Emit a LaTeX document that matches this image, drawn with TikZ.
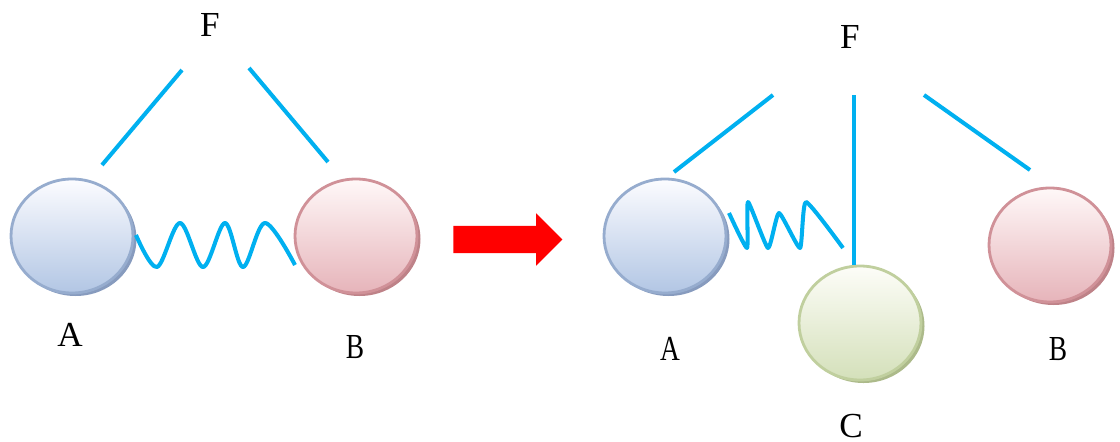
\documentclass[tikz,border=0pt]{standalone}
\usepackage{fontspec}
\setmainfont{Liberation Serif}
\newfontfamily\narrowfont[FakeStretch=0.78]{Liberation Serif}
\usetikzlibrary{shapes.geometric,shapes.arrows,shadows,positioning}
\definecolor{rodcyan}{RGB}{0,176,240}
\definecolor{bluetop}{RGB}{252,252,255}
\definecolor{bluebot}{RGB}{178,198,228}
\definecolor{blueedge}{RGB}{150,172,206}
\definecolor{blueshade}{RGB}{135,155,190}
\definecolor{redtop}{RGB}{255,248,248}
\definecolor{redbot}{RGB}{230,180,186}
\definecolor{rededge}{RGB}{208,145,152}
\definecolor{redshade}{RGB}{190,130,136}
\definecolor{greentop}{RGB}{253,253,248}
\definecolor{greenbot}{RGB}{212,224,186}
\definecolor{greenedge}{RGB}{192,207,158}
\definecolor{greenshade}{RGB}{172,186,138}

\begin{document}
\begin{tikzpicture}[
      ball/.style={ellipse, inner sep=0pt, line width=0.8pt, minimum width=1.22cm, minimum height=1.14cm},
      blueball/.style={ball, draw=blueedge, top color=bluetop, bottom color=bluebot, general shadow={fill=blueshade, shadow xshift=0.035cm, shadow yshift=-0.03cm}},
      redball/.style={ball, draw=rededge, top color=redtop, bottom color=redbot, general shadow={fill=redshade, shadow xshift=0.035cm, shadow yshift=-0.03cm}},
      greenball/.style={ball, draw=greenedge, top color=greentop, bottom color=greenbot, general shadow={fill=greenshade, shadow xshift=0.035cm, shadow yshift=-0.03cm}},
      rod/.style={draw=rodcyan, line width=1.15pt},
      spring/.style={rod, line join=round},
      lbl/.style={font=\fontsize{10}{12}\selectfont},
      nlbl/.style={font=\fontsize{10}{12}\narrowfont}
  ]
      \useasboundingbox (0,0) rectangle (11.2,4.41);

      % before
      \node[blueball] (A1) at (0.72,2.05) {};
      \node[redball] (B1) at (3.56,2.05) {};
      \node[lbl] (F1) at (2.10,4.16) {F};
      \node[lbl, below=0.165cm of A1, xshift=-0.02cm] (labA1) {A};
      \node[nlbl, below=0.285cm of B1, xshift=-0.01cm] (labB1) {B};

      \coordinate (F1a) at (1.82,3.71);
      \coordinate (F1b) at (2.49,3.73);
      \coordinate (hA1) at (1.02,2.76);
      \coordinate (hB1) at (3.28,2.79);
      \draw[rod] (F1a) -- (hA1);
      \draw[rod] (F1b) -- (hB1);

      \coordinate (sA1) at (1.36,2.06);
      \coordinate (sB1) at (2.95,1.76);
      \draw[spring] plot[smooth, tension=0.55] coordinates {(sA1) (1.57,1.74) (1.80,2.18) (2.03,1.74) (2.25,2.18) (2.43,1.74) (2.65,2.18) (sB1)};

      % arrow
      \node[single arrow, fill=red, inner sep=0pt, text height=0.26cm, text depth=0pt, minimum height=1.09cm, single arrow head extend=0.125cm, single arrow head indent=0pt] (go) at (5.01,2.015) {};

      % after
      \node[blueball] (A2) at (6.65,2.05) {};
      \node[greenball] (C2) at (8.60,1.18) {};
      \node[redball] (B2) at (10.50,1.96) {};
      \node[lbl] (F2) at (8.50,4.04) {F};
      \node[nlbl, below=0.305cm of A2, xshift=0.05cm] (labA2) {A};
      \node[lbl, inner sep=0.5pt, below=0.30cm of C2, xshift=-0.09cm] (labC2) {C};
      \node[nlbl, below=0.215cm of B2, xshift=0.08cm] (labB2) {B};

      \coordinate (F2a) at (7.73,3.46);
      \coordinate (F2c) at (8.54,3.46);
      \coordinate (F2b) at (9.24,3.46);
      \coordinate (hA2) at (6.74,2.69);
      \coordinate (hB2) at (10.30,2.71);
      \draw[rod] (F2a) -- (hA2);
      \draw[rod] (F2c) -- (F2c |- C2.north);
      \draw[rod] (F2b) -- (hB2);

      \coordinate (sA2) at (7.29,2.28);
      \coordinate (sC2) at (8.43,1.93);
      \draw[spring] plot[smooth, tension=0.3] coordinates {(sA2) (7.47,1.93) (7.48,2.39) (7.68,1.93) (7.79,2.28) (8.00,1.93) (8.06,2.39) (sC2)};
  \end{tikzpicture}
\end{document}
